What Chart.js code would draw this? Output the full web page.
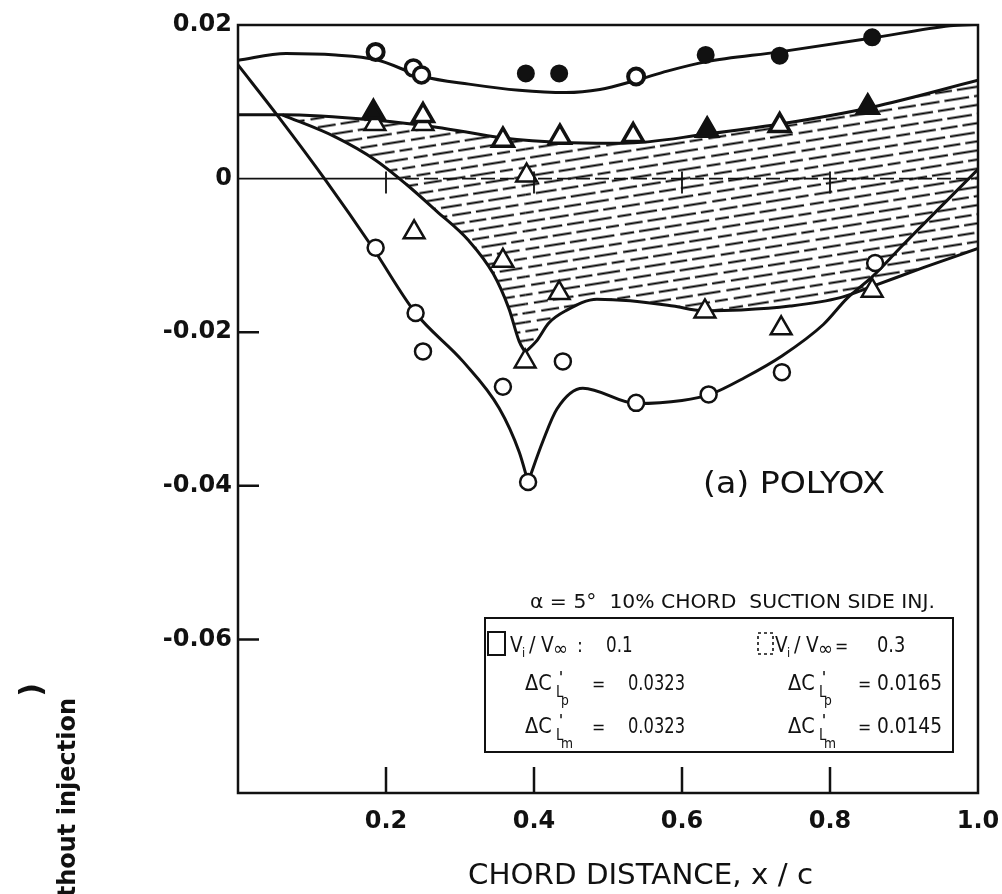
<!DOCTYPE html>
<html><head><meta charset="utf-8">
<script src="https://cdn.jsdelivr.net/npm/chart.js@4.4.1/dist/chart.umd.min.js"></script>
<style>html,body{margin:0;padding:0;background:#fff;}canvas{display:block;}</style>
</head><body>
<canvas id="c" width="1002" height="894"></canvas>
<script>
// ---- tick values / labels ----
const xTickValues = [0.2, 0.4, 0.6, 0.8, 1.0];
const xTickLabels = ['0.2', '0.4', '0.6', '0.8', '1.0'];
const yTickValues = [-0.06, -0.04, -0.02, 0, 0.02];
const yTickLabels = ['-0.06', '-0.04', '-0.02', '0', '0.02'];

// ---- faired curves ----
const upperCurveX = [0, 0.065, 0.132, 0.186, 0.25, 0.312, 0.38, 0.443, 0.489, 0.538, 0.58, 0.632, 0.732, 0.857, 0.962, 1.0];
const upperCurveY = [0.0154, 0.0163, 0.0161, 0.0155, 0.0133, 0.0123, 0.0115, 0.0112, 0.0116, 0.0128, 0.0140, 0.0152, 0.0165, 0.0183, 0.0199, 0.0201];

const midCurveX = [0, 0.06, 0.186, 0.268, 0.358, 0.443, 0.52, 0.634, 0.732, 0.857, 1.0];
const midCurveY = [0.0083, 0.0083, 0.0076, 0.0067, 0.0053, 0.0047, 0.0046, 0.0058, 0.0071, 0.0093, 0.0128];

const hatchLeftX = [0.06, 0.132, 0.186, 0.227, 0.268, 0.312, 0.345, 0.366, 0.38, 0.388];
const hatchLeftY = [0.0083, 0.0054, 0.0024, -0.0007, -0.0042, -0.0081, -0.0124, -0.0169, -0.0212, -0.0226];
const hatchRightX = [0.388, 0.403, 0.42, 0.443, 0.485, 0.53, 0.588, 0.628, 0.68, 0.746, 0.814, 0.858, 0.926, 1.0];
const hatchRightY = [-0.0226, -0.0212, -0.0188, -0.0172, -0.0157, -0.0159, -0.0166, -0.0172, -0.0171, -0.0166, -0.0155, -0.0140, -0.0116, -0.0091];

const lowLeftX = [0, 0.055, 0.119, 0.182, 0.24, 0.304, 0.353, 0.38, 0.392];
const lowLeftY = [0.0148, 0.0080, -0.0003, -0.0090, -0.0175, -0.0238, -0.0299, -0.0356, -0.0395];
const lowRightX = [0.392, 0.412, 0.431, 0.466, 0.539, 0.6, 0.638, 0.685, 0.735, 0.791, 0.823, 0.858, 0.895, 1.0];
const lowRightY = [-0.0395, -0.0342, -0.0300, -0.0273, -0.0293, -0.0289, -0.0281, -0.0259, -0.0231, -0.0190, -0.0156, -0.0127, -0.0090, 0.0012];

const zeroSolidX = [0, 0.2];
const zeroDashX = [0.2, 1.0];

// ---- measured points ----
const solidCircleX = [0.186, 0.237, 0.248, 0.389, 0.434, 0.538, 0.632, 0.732, 0.857];
const solidCircleY = [0.0165, 0.0144, 0.0135, 0.0137, 0.0137, 0.0133, 0.0161, 0.0160, 0.0184];

const openCircleX = [0.186, 0.24, 0.25, 0.358, 0.392, 0.439, 0.538, 0.636, 0.735, 0.861];
const openCircleY = [-0.0090, -0.0175, -0.0225, -0.0271, -0.0395, -0.0238, -0.0292, -0.0281, -0.0252, -0.0110];

const solidTriX = [0.183, 0.25, 0.358, 0.435, 0.534, 0.634, 0.732, 0.851];
const solidTriY = [0.0086, 0.0082, 0.0050, 0.0054, 0.0056, 0.0063, 0.0069, 0.0093];

const openTriX = [0.185, 0.25, 0.238, 0.39, 0.358, 0.434, 0.388, 0.631, 0.734, 0.857];
const openTriY = [0.0071, 0.0071, -0.0070, 0.0004, -0.0107, -0.0149, -0.0238, -0.0173, -0.0195, -0.0146];

const mk = (xs, ys) => xs.map((x, i) => ({x: x, y: ys[i]}));

function makeHatch() {
  const t = document.createElement('canvas');
  t.width = 96; t.height = 18;
  const g = t.getContext('2d');
  g.strokeStyle = '#000'; g.lineWidth = 2;
  g.beginPath();
  [[0,14],[19,40],[45,62],[67,90]].forEach(([a,b]) => {g.moveTo(a,4.5); g.lineTo(b,4.5);});
  [[6,24],[29,48],[53,78],[83,96]].forEach(([a,b]) => {g.moveTo(a,13.5); g.lineTo(b,13.5);});
  g.stroke();
  const p = document.getElementById('c').getContext('2d').createPattern(t, 'repeat');
  p.setTransform(new DOMMatrix().rotateSelf(-9));
  return p;
}
const hatch = makeHatch();

const INK = '#111';
function lineDs(xs, ys, extra) {
  return Object.assign({type: 'line', data: mk(xs, ys), borderColor: INK, borderWidth: 3,
    pointRadius: 0, pointHoverRadius: 0, fill: false, tension: 0.4,
    cubicInterpolationMode: 'monotone', order: 2}, extra || {});
}
function ptDs(xs, ys, extra) {
  return Object.assign({type: 'line', showLine: false, data: mk(xs, ys), borderColor: INK,
    borderWidth: 2.5, pointBorderColor: INK, pointHoverRadius: 0, order: 0}, extra);
}

const W = '#fff', B = '#111';
const datasets = [
  lineDs(upperCurveX, upperCurveY),                                   // 0
  lineDs(midCurveX, midCurveY),                                       // 1
  lineDs(hatchLeftX, hatchLeftY, {fill: 1, backgroundColor: hatch}),  // 2
  lineDs(hatchRightX, hatchRightY, {fill: 1, backgroundColor: hatch}),// 3
  lineDs(lowLeftX, lowLeftY),                                         // 4
  lineDs(lowRightX, lowRightY),                                       // 5
  lineDs(zeroSolidX, [0, 0], {borderWidth: 1.6, tension: 0, order: 1}),
  lineDs(zeroDashX, [0, 0], {borderWidth: 1.8, tension: 0, borderDash: [14, 5], order: 1}),
  ptDs(solidCircleX, solidCircleY, {pointStyle: 'circle', pointRadius: 8,
    pointBackgroundColor: [W, W, W, B, B, W, B, B, B],
    pointBorderWidth: [4, 3.5, 3.5, 2, 2, 4, 2, 2, 2]}),
  ptDs(openCircleX, openCircleY, {pointStyle: 'circle', pointRadius: 8,
    pointBackgroundColor: W, pointBorderWidth: 2.5}),
  ptDs(solidTriX, solidTriY, {pointStyle: 'triangle', pointRadius: 12,
    pointBackgroundColor: [B, W, W, W, W, B, W, B], pointBorderWidth: 3.5}),
  ptDs(openTriX, openTriY, {pointStyle: 'triangle', pointRadius: 12,
    pointBackgroundColor: W, pointBorderWidth: 2.5})
];

function put(ctx, t, x, y, size, o) {
  o = o || {};
  ctx.save();
  ctx.font = (o.w || 'normal') + ' ' + size + 'px "DejaVu Sans"';
  ctx.textAlign = o.align || 'left';
  ctx.textBaseline = 'alphabetic';
  ctx.fillStyle = INK;
  let sx = o.sx || 0.88;
  if (o.fit) sx = o.fit / ctx.measureText(t).width;
  ctx.translate(x, y); ctx.scale(sx, 1);
  ctx.fillText(t, 0, 0);
  ctx.restore();
}

const decor = {
  id: 'decor',
  beforeDraw(chart) {
    const c = chart.ctx; c.save(); c.fillStyle = '#fff'; c.fillRect(0, 0, chart.width, chart.height); c.restore();
  },
  afterDraw(chart) {
    const ctx = chart.ctx, a = chart.chartArea, xs = chart.scales.x, ys = chart.scales.y;
    ctx.save();
    ctx.strokeStyle = INK; ctx.lineWidth = 2.5;
    ctx.strokeRect(a.left, a.top, a.right - a.left, a.bottom - a.top);
    ctx.beginPath();
    yTickValues.forEach(v => { if (v < 0) { const py = ys.getPixelForValue(v); ctx.moveTo(a.left, py); ctx.lineTo(a.left + 21, py); } });
    xTickValues.forEach(v => { if (v < 1) { const px = xs.getPixelForValue(v); ctx.moveTo(px, a.bottom); ctx.lineTo(px, a.bottom - 26); } });
    ctx.stroke();
    // small vertical marks on the zero line
    const z = ys.getPixelForValue(0);
    ctx.lineWidth = 1.8; ctx.beginPath();
    [0.2, 0.4, 0.6, 0.8].forEach(v => { const px = xs.getPixelForValue(v); ctx.moveTo(px, z - 7); ctx.lineTo(px, z + 15); });
    ctx.stroke();

    // annotation
    put(ctx, '(a) POLYOX', 703, 493, 30, {fit: 182});
    put(ctx, 'α = 5°  10% CHORD  SUCTION SIDE INJ.', 530, 608, 19, {fit: 405});

    // legend box
    ctx.lineWidth = 2; ctx.strokeStyle = INK;
    ctx.strokeRect(485, 618, 468, 134);
    ctx.strokeRect(488, 632, 17, 23);
    ctx.setLineDash([3, 3]); ctx.lineWidth = 1.6;
    ctx.strokeRect(758, 633, 15, 21);
    ctx.setLineDash([]);

    const vrow = (x0, base) => {
      put(ctx, 'V', x0, base, 21);
      put(ctx, 'i', x0 + 12, base + 5, 13);
      put(ctx, '/', x0 + 19, base, 22);
      put(ctx, 'V', x0 + 31, base, 21);
      put(ctx, '∞', x0 + 43, base + 3, 19, {sx: 0.95});
    };
    vrow(510, 652);
    put(ctx, ':', 577, 652, 20);
    put(ctx, '0.1', 606, 652, 21, {sx: 0.8});
    vrow(775, 652);
    put(ctx, '=', 835, 652, 18);
    put(ctx, '0.3', 877, 652, 21, {sx: 0.85});

    const dc = (x0, base, sub, eqx, valx, val, vw) => {
      put(ctx, 'ΔC', x0, base, 22);
      put(ctx, 'L', x0 + 31, base + 7, 15);
      put(ctx, "'", x0 + 34, base - 7, 15, {w: 'bold'});
      put(ctx, sub, x0 + 36, base + 15, 14);
      put(ctx, '=', eqx, base, 18);
      put(ctx, val, valx, base, 21, {fit: vw});
    };
    dc(525, 690, 'p', 592, 628, '0.0323', 57);
    dc(525, 733, 'm', 592, 628, '0.0323', 57);
    dc(788, 690, 'p', 858, 877, '0.0165', 65);
    dc(788, 733, 'm', 858, 877, '0.0145', 65);

    // axis titles
    put(ctx, 'CHORD DISTANCE, x / c', 468, 884, 29, {fit: 345});
    ctx.save();
    ctx.translate(75, 698); ctx.rotate(-Math.PI / 2);
    ctx.font = 'bold 24px "DejaVu Sans"'; ctx.fillStyle = INK;
    ctx.textAlign = 'right'; ctx.textBaseline = 'alphabetic';
    ctx.fillText('without injection', 0, 0);
    ctx.restore();
    ctx.save();
    ctx.translate(33, 690); ctx.rotate(-Math.PI / 2);
    ctx.font = 'bold 30px "DejaVu Sans"'; ctx.fillStyle = INK;
    ctx.textAlign = 'center'; ctx.textBaseline = 'middle';
    ctx.fillText(')', 0, 0);
    ctx.restore();
    ctx.restore();
  }
};

const tickFont = {family: 'DejaVu Sans', size: 24, weight: 'bold'};
new Chart(document.getElementById('c'), {
  type: 'line',
  data: {datasets: datasets},
  options: {
    responsive: false, animation: false, events: [],
    layout: {padding: {top: 25, right: 24, left: 0, bottom: 0}},
    plugins: {legend: {display: false}, tooltip: {enabled: false}, filler: {drawTime: 'beforeDatasetsDraw'}},
    scales: {
      x: {type: 'linear', min: 0, max: 1,
        grid: {display: false, drawTicks: false}, border: {display: false},
        afterBuildTicks: s => { s.ticks = xTickValues.map(v => ({value: v})); },
        afterFit: s => { s.height = 101; s.paddingLeft = 0; s.paddingRight = 0; },
        ticks: {callback: v => xTickLabels[xTickValues.indexOf(v)], font: tickFont, color: INK,
          padding: 14, maxRotation: 0, autoSkip: false}},
      y: {type: 'linear', min: -0.08, max: 0.02,
        grid: {display: false, drawTicks: false}, border: {display: false},
        afterBuildTicks: s => { s.ticks = yTickValues.map(v => ({value: v})); },
        afterFit: s => { s.width = 238; s.paddingTop = 0; s.paddingBottom = 0; },
        ticks: {callback: v => yTickLabels[yTickValues.indexOf(v)], font: tickFont, color: INK,
          padding: 6, autoSkip: false}}
    }
  },
  plugins: [decor]
});
</script>
</body></html>
